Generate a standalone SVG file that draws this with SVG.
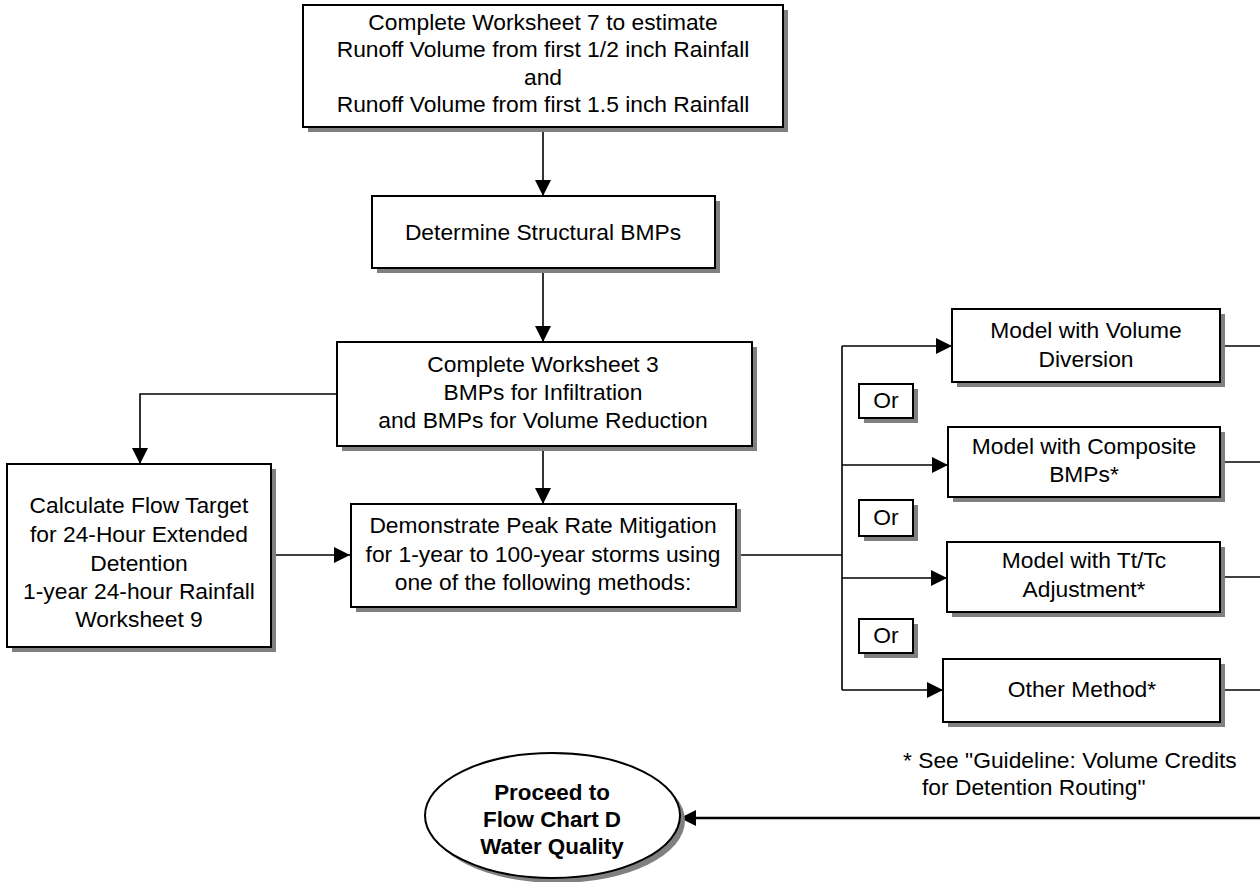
<svg xmlns="http://www.w3.org/2000/svg" width="1260" height="882" viewBox="0 0 1260 882">
<style>
.box{fill:#fff;stroke:#000;stroke-width:2}
.sh{fill:#808080}
.t{font-family:"Liberation Sans",Arial,sans-serif;font-size:22.8px;fill:#000;text-anchor:middle}
.b{font-weight:bold;font-size:22.4px}
.ft{font-family:"Liberation Sans",Arial,sans-serif;font-size:22.8px;fill:#000}
.c{fill:none;stroke:#000;stroke-width:1.6}
.c2{fill:none;stroke:#000;stroke-width:2.4}
</style>
<defs>
<marker id="ah" markerUnits="userSpaceOnUse" markerWidth="16" markerHeight="16" refX="16" refY="8" orient="auto">
<path d="M0,0 L16,8 L0,16 z" fill="#000"/>
</marker>
</defs>
<rect width="1260" height="882" fill="#fff"/>
<g id="connectors">
<path class="c" d="M543,128 V196" marker-end="url(#ah)"/>
<path class="c" d="M543,268 V342" marker-end="url(#ah)"/>
<path class="c" d="M337,394 H140 V464" marker-end="url(#ah)"/>
<path class="c" d="M543,446 V504" marker-end="url(#ah)"/>
<path class="c" d="M271,555 H350" marker-end="url(#ah)"/>
<path class="c" d="M736,555 H842"/>
<path class="c" d="M842,346 V690"/>
<path class="c" d="M842,346 H952" marker-end="url(#ah)"/>
<path class="c" d="M842,465 H948" marker-end="url(#ah)"/>
<path class="c" d="M842,578 H947" marker-end="url(#ah)"/>
<path class="c" d="M842,690 H943" marker-end="url(#ah)"/>
<path class="c" d="M1220,346 H1260"/>
<path class="c" d="M1220,462 H1260"/>
<path class="c" d="M1220,577 H1260"/>
<path class="c" d="M1220,690 H1260"/>
<path class="c2" d="M1260,818 H680" marker-end="url(#ah)"/>
</g>
<g id="n1">
<rect class="sh" x="308" y="10" width="480" height="122"/>
<rect class="box" x="303" y="5" width="480" height="122"/>
<text class="t" x="543" y="30">Complete Worksheet 7 to estimate</text>
<text class="t" x="543" y="57">Runoff Volume from first 1/2 inch Rainfall</text>
<text class="t" x="543" y="85">and</text>
<text class="t" x="543" y="112">Runoff Volume from first 1.5 inch Rainfall</text>
</g>
<g id="n2">
<rect class="sh" x="377" y="201" width="343" height="72"/>
<rect class="box" x="372" y="196" width="343" height="72"/>
<text class="t" x="543" y="240">Determine Structural BMPs</text>
</g>
<g id="n3">
<rect class="sh" x="342" y="347" width="415" height="104"/>
<rect class="box" x="337" y="342" width="415" height="104"/>
<text class="t" x="543" y="372">Complete Worksheet 3</text>
<text class="t" x="543" y="400">BMPs for Infiltration</text>
<text class="t" x="543" y="428">and BMPs for Volume Reduction</text>
</g>
<g id="n4">
<rect class="sh" x="12" y="469" width="264" height="183"/>
<rect class="box" x="7" y="464" width="264" height="183"/>
<text class="t" x="139" y="513">Calculate Flow Target</text>
<text class="t" x="139" y="542">for 24-Hour Extended</text>
<text class="t" x="139" y="571">Detention</text>
<text class="t" x="139" y="599">1-year 24-hour Rainfall</text>
<text class="t" x="139" y="627">Worksheet 9</text>
</g>
<g id="n5">
<rect class="sh" x="356" y="509" width="385" height="103"/>
<rect class="box" x="351" y="504" width="385" height="103"/>
<text class="t" x="543" y="533">Demonstrate Peak Rate Mitigation</text>
<text class="t" x="543" y="562">for 1-year to 100-year storms using</text>
<text class="t" x="543" y="590">one of the following methods:</text>
</g>
<g id="n6">
<rect class="sh" x="957" y="314" width="268" height="73"/>
<rect class="box" x="952" y="309" width="268" height="73"/>
<text class="t" x="1086" y="338">Model with Volume</text>
<text class="t" x="1086" y="367">Diversion</text>
</g>
<g id="n7">
<rect class="sh" x="953" y="432" width="272" height="70"/>
<rect class="box" x="948" y="427" width="272" height="70"/>
<text class="t" x="1084" y="454">Model with Composite</text>
<text class="t" x="1084" y="482">BMPs*</text>
</g>
<g id="n8">
<rect class="sh" x="952" y="547" width="273" height="70"/>
<rect class="box" x="947" y="542" width="273" height="70"/>
<text class="t" x="1084" y="568">Model with Tt/Tc</text>
<text class="t" x="1084" y="597">Adjustment*</text>
</g>
<g id="n9">
<rect class="sh" x="948" y="664" width="277" height="63"/>
<rect class="box" x="943" y="659" width="277" height="63"/>
<text class="t" x="1082" y="697">Other Method*</text>
</g>
<g id="or1">
<rect class="sh" x="864" y="389" width="54" height="34"/>
<rect class="box" x="859" y="384" width="54" height="34"/>
<text class="t" x="886" y="408">Or</text>
</g>
<g id="or2">
<rect class="sh" x="864" y="505" width="54" height="36"/>
<rect class="box" x="859" y="500" width="54" height="36"/>
<text class="t" x="886" y="525">Or</text>
</g>
<g id="or3">
<rect class="sh" x="864" y="624" width="54" height="34"/>
<rect class="box" x="859" y="619" width="54" height="34"/>
<text class="t" x="886" y="643">Or</text>
</g>
<g id="note">
<text class="ft" x="903" y="768">* See "Guideline: Volume Credits</text>
<text class="ft" x="922" y="795">for Detention Routing"</text>
</g>
<g id="n10">
<ellipse class="sh" cx="557.5" cy="820.5" rx="127.5" ry="62.5"/>
<ellipse class="box" cx="552.5" cy="815.5" rx="127.5" ry="62.5"/>
<text class="t b" x="552" y="800">Proceed to</text>
<text class="t b" x="552" y="827">Flow Chart D</text>
<text class="t b" x="552" y="854">Water Quality</text>
</g>
</svg>
